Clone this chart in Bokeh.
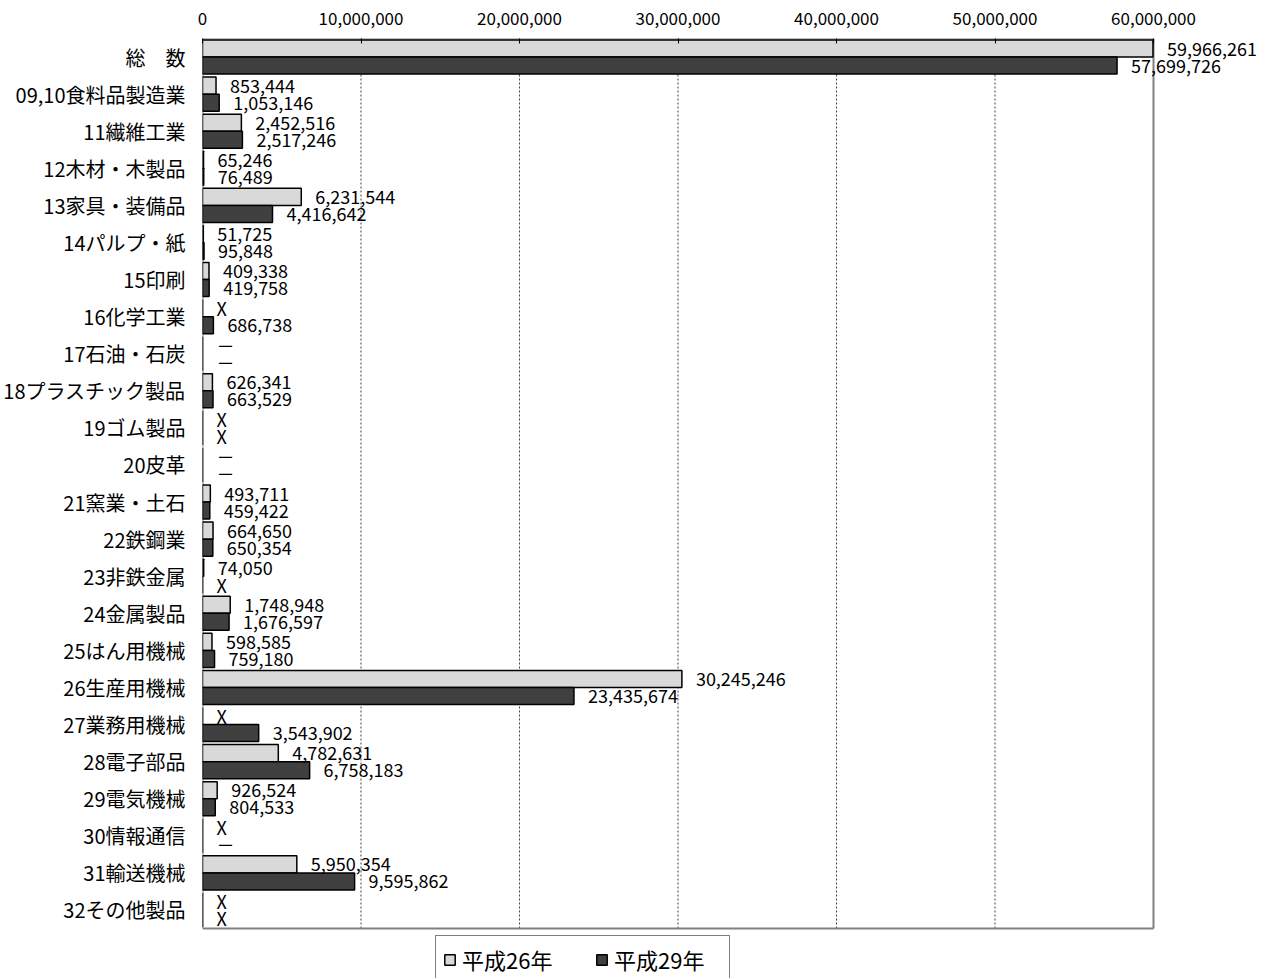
from bokeh.plotting import figure
from bokeh.models import (ColumnDataSource, Legend, LegendItem,
                          NumeralTickFormatter, Range1d, FixedTicker)
from bokeh.core.properties import value
from bokeh.embed import file_html
from bokeh.resources import INLINE

categories = ["総　数", "09,10食料品製造業", "11繊維工業", "12木材・木製品", "13家具・装備品",
              "14パルプ・紙", "15印刷", "16化学工業", "17石油・石炭", "18プラスチック製品",
              "19ゴム製品", "20皮革", "21窯業・土石", "22鉄鋼業", "23非鉄金属", "24金属製品",
              "25はん用機械", "26生産用機械", "27業務用機械", "28電子部品", "29電気機械",
              "30情報通信", "31輸送機械", "32その他製品"]
# None = "X" (秘匿), 0 = "－"
h26 = [59966261, 853444, 2452516, 65246, 6231544, 51725, 409338, None, 0, 626341,
       None, 0, 493711, 664650, 74050, 1748948, 598585, 30245246, None, 4782631,
       926524, None, 5950354, None]
h29 = [57699726, 1053146, 2517246, 76489, 4416642, 95848, 419758, 686738, 0, 663529,
       None, 0, 459422, 650354, None, 1676597, 759180, 23435674, 3543902, 6758183,
       804533, 0, 9595862, None]
series_names = ["平成26年", "平成29年"]
x_ticks = [0, 10000000, 20000000, 30000000, 40000000, 50000000, 60000000]

FONT = "Noto Sans CJK JP"
GREY = "#808080"
BAR_H = 0.46


def lab(v):
    if v is None:
        return "X"
    if v == 0:
        return "－"
    return f"{v:,}"


n = len(categories)
pos = [n - i - 0.5 for i in range(n)]          # category centres, first at top

src = ColumnDataSource(dict(
    cat=categories,
    y26=[y + BAR_H / 2 for y in pos],
    y29=[y - BAR_H / 2 for y in pos],
    v26=[v or 0 for v in h26],
    v29=[v or 0 for v in h29],
    l26=[lab(v) for v in h26],
    l29=[lab(v) for v in h29],
))

x_max = x_ticks[-1]
plot_w, plot_h = 951, 890          # pixel size of the bordered plot area
frame_w, frame_h = 1062, 940       # frame also holds the value labels and the legend
x_end = x_max * frame_w / plot_w
y_start = -(frame_h - plot_h) / (plot_h / n)

p = figure(frame_width=frame_w, frame_height=frame_h, output_backend="svg", toolbar_location=None,
           x_range=Range1d(0, x_end), y_range=Range1d(y_start, n),
           x_axis_location="above",
           min_border_left=202, min_border_right=2, min_border_top=38, min_border_bottom=0)

p.outline_line_color = None
p.background_fill_color = "white"
p.xgrid.grid_line_color = None
p.ygrid.grid_line_color = None

# dotted vertical grid lines inside the plot area
p.segment(x0=x_ticks[1:-1], y0=[0] * (len(x_ticks) - 2), x1=x_ticks[1:-1], y1=[n] * (len(x_ticks) - 2),
          line_color="#404040", line_dash="2 2", line_width=1)

# plot-area border
p.segment(x0=[0, 0, x_max, 0], y0=[0, n, 0, 0], x1=[x_max, x_max, x_max, 0], y1=[0, n, n, n],
          line_color=GREY, line_width=2)

r26 = p.hbar(y="y26", right="v26", left=0, height=BAR_H,
             source=src, fill_color="#d9d9d9", line_color="black", line_width=1.5)
r29 = p.hbar(y="y29", right="v29", left=0, height=BAR_H,
             source=src, fill_color="#404040", line_color="black", line_width=1.5)

p.text(x="v26", y="y26", text="l26", source=src,
       x_offset=14, text_align="left", text_baseline="middle",
       text_font=value(FONT), text_font_size="18px", text_color="black")
p.text(x="v29", y="y29", text="l29", source=src,
       x_offset=14, text_align="left", text_baseline="middle",
       text_font=value(FONT), text_font_size="18px", text_color="black")

# x axis (top)
xa = p.xaxis[0]
xa.ticker = FixedTicker(ticks=x_ticks)
xa.formatter = NumeralTickFormatter(format="0,0")
xa.axis_line_color = None
xa.major_tick_in = 5
xa.major_tick_out = 0
xa.major_tick_line_color = "black"
xa.minor_tick_line_color = None
xa.major_label_text_font = FONT
xa.major_label_text_font_size = "17px"
xa.major_label_text_color = "black"
xa.major_label_standoff = 14

# y axis (category names)
ya = p.yaxis[0]
ya.ticker = FixedTicker(ticks=pos)
ya.major_label_overrides = {y: c for y, c in zip(pos, categories)}
ya.axis_line_color = None
ya.major_tick_line_color = None
ya.minor_tick_line_color = None
ya.major_label_text_font = FONT
ya.major_label_text_font_size = "20px"
ya.major_label_text_color = "black"
ya.major_label_standoff = 11

legend = Legend(items=[LegendItem(label=series_names[0], renderers=[r26]),
                       LegendItem(label=series_names[1], renderers=[r29])],
                orientation="horizontal", location=(233, -5),
                glyph_width=13, glyph_height=13, label_standoff=6, spacing=25,
                label_width=108, padding=7, margin=0,
                border_line_color="black", border_line_width=1,
                label_text_font=FONT, label_text_font_size="22px", label_text_color="black",
                background_fill_alpha=1)
p.add_layout(legend, "center")

open("out.html", "w").write(file_html(p, INLINE))
